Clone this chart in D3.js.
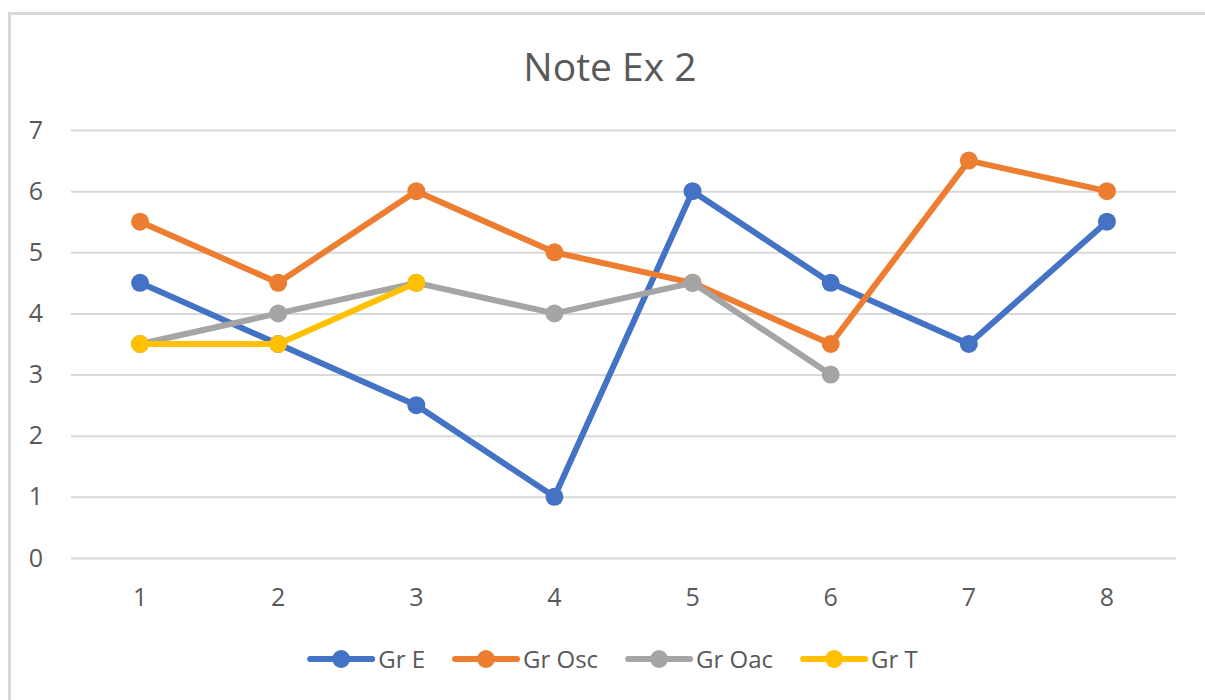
<!DOCTYPE html>
<html><head><meta charset="utf-8">
<script src="https://cdn.jsdelivr.net/npm/d3@7"></script>
<style>body{margin:0;background:#fff}svg{display:block}text{font-family:"Open Sans",sans-serif;fill:#595959}</style>
</head><body>
<svg id="c" width="1205" height="700"></svg>
<script>
const categories = ["1","2","3","4","5","6","7","8"];
const seriesNames = ["Gr E","Gr Osc","Gr Oac","Gr T"];
const grE   = [4.5, 3.5, 2.5, 1, 6, 4.5, 3.5, 5.5];
const grOsc = [5.5, 4.5, 6, 5, 4.5, 3.5, 6.5, 6];
const grOac = [3.5, 4, 4.5, 4, 4.5, 3];
const grT   = [3.5, 3.5, 4.5];
const yTicks = [0,1,2,3,4,5,6,7];
const colors = ["#4472C4","#ED7D31","#A5A5A5","#FFC000"];
const series = [grE, grOsc, grOac, grT];

const svg = d3.select("#c");
svg.append("rect").attr("x",9.5).attr("y",13.5).attr("width",1200).attr("height",700)
  .attr("fill","none").attr("stroke","#d9d9d9").attr("stroke-width",3);

const x = d3.scaleBand().domain(categories).range([71,1176]);
const y = d3.scaleLinear().domain([0,7]).range([558,130]);

svg.append("text").attr("x",610).attr("y",81).attr("text-anchor","middle")
  .style("font-size","39px").text("Note Ex 2");

const gy = svg.append("g").attr("transform","translate(71,0)")
  .call(d3.axisLeft(y).tickValues(yTicks).tickSize(-(1176-71)).tickPadding(28).tickFormat(d3.format("d")));
gy.select(".domain").remove();
gy.selectAll(".tick line").attr("stroke","#d9d9d9").attr("stroke-width",2);
gy.selectAll(".tick text").style("font-size","25px").attr("fill","#595959");

const gx = svg.append("g").attr("transform","translate(0,558)")
  .call(d3.axisBottom(x).tickSize(0).tickPadding(30));
gx.select(".domain").remove();
gx.selectAll(".tick text").style("font-size","25px").attr("fill","#595959");

const line = d3.line().x((d,i)=>x(categories[i])+x.bandwidth()/2).y(d=>y(d));
series.forEach((s,k)=>{
  svg.append("path").datum(s).attr("d",line).attr("fill","none")
    .attr("stroke",colors[k]).attr("stroke-width",6).attr("stroke-linejoin","round").attr("stroke-linecap","round");
  svg.selectAll(null).data(s).enter().append("circle")
    .attr("cx",(d,i)=>x(categories[i])+x.bandwidth()/2).attr("cy",d=>y(d)).attr("r",9)
    .attr("fill",colors[k]);
});

// legend
const lg = svg.append("g");
const items = [];
let cx = 0;
seriesNames.forEach((n,k)=>{
  const g = lg.append("g");
  g.append("line").attr("x1",3).attr("x2",65).attr("y1",0).attr("y2",0)
    .attr("stroke",colors[k]).attr("stroke-width",6).attr("stroke-linecap","round");
  g.append("circle").attr("cx",34).attr("cy",0).attr("r",9).attr("fill",colors[k]);
  const t = g.append("text").attr("x",71).attr("y",9).style("font-size","24px").text(n);
  const w = 71 + t.node().getComputedTextLength();
  g.attr("transform",`translate(${cx},659)`);
  cx += w + 27;
});
const total = cx - 27;
lg.attr("transform",`translate(${612.5 - total/2},0)`);
</script>
</body></html>
